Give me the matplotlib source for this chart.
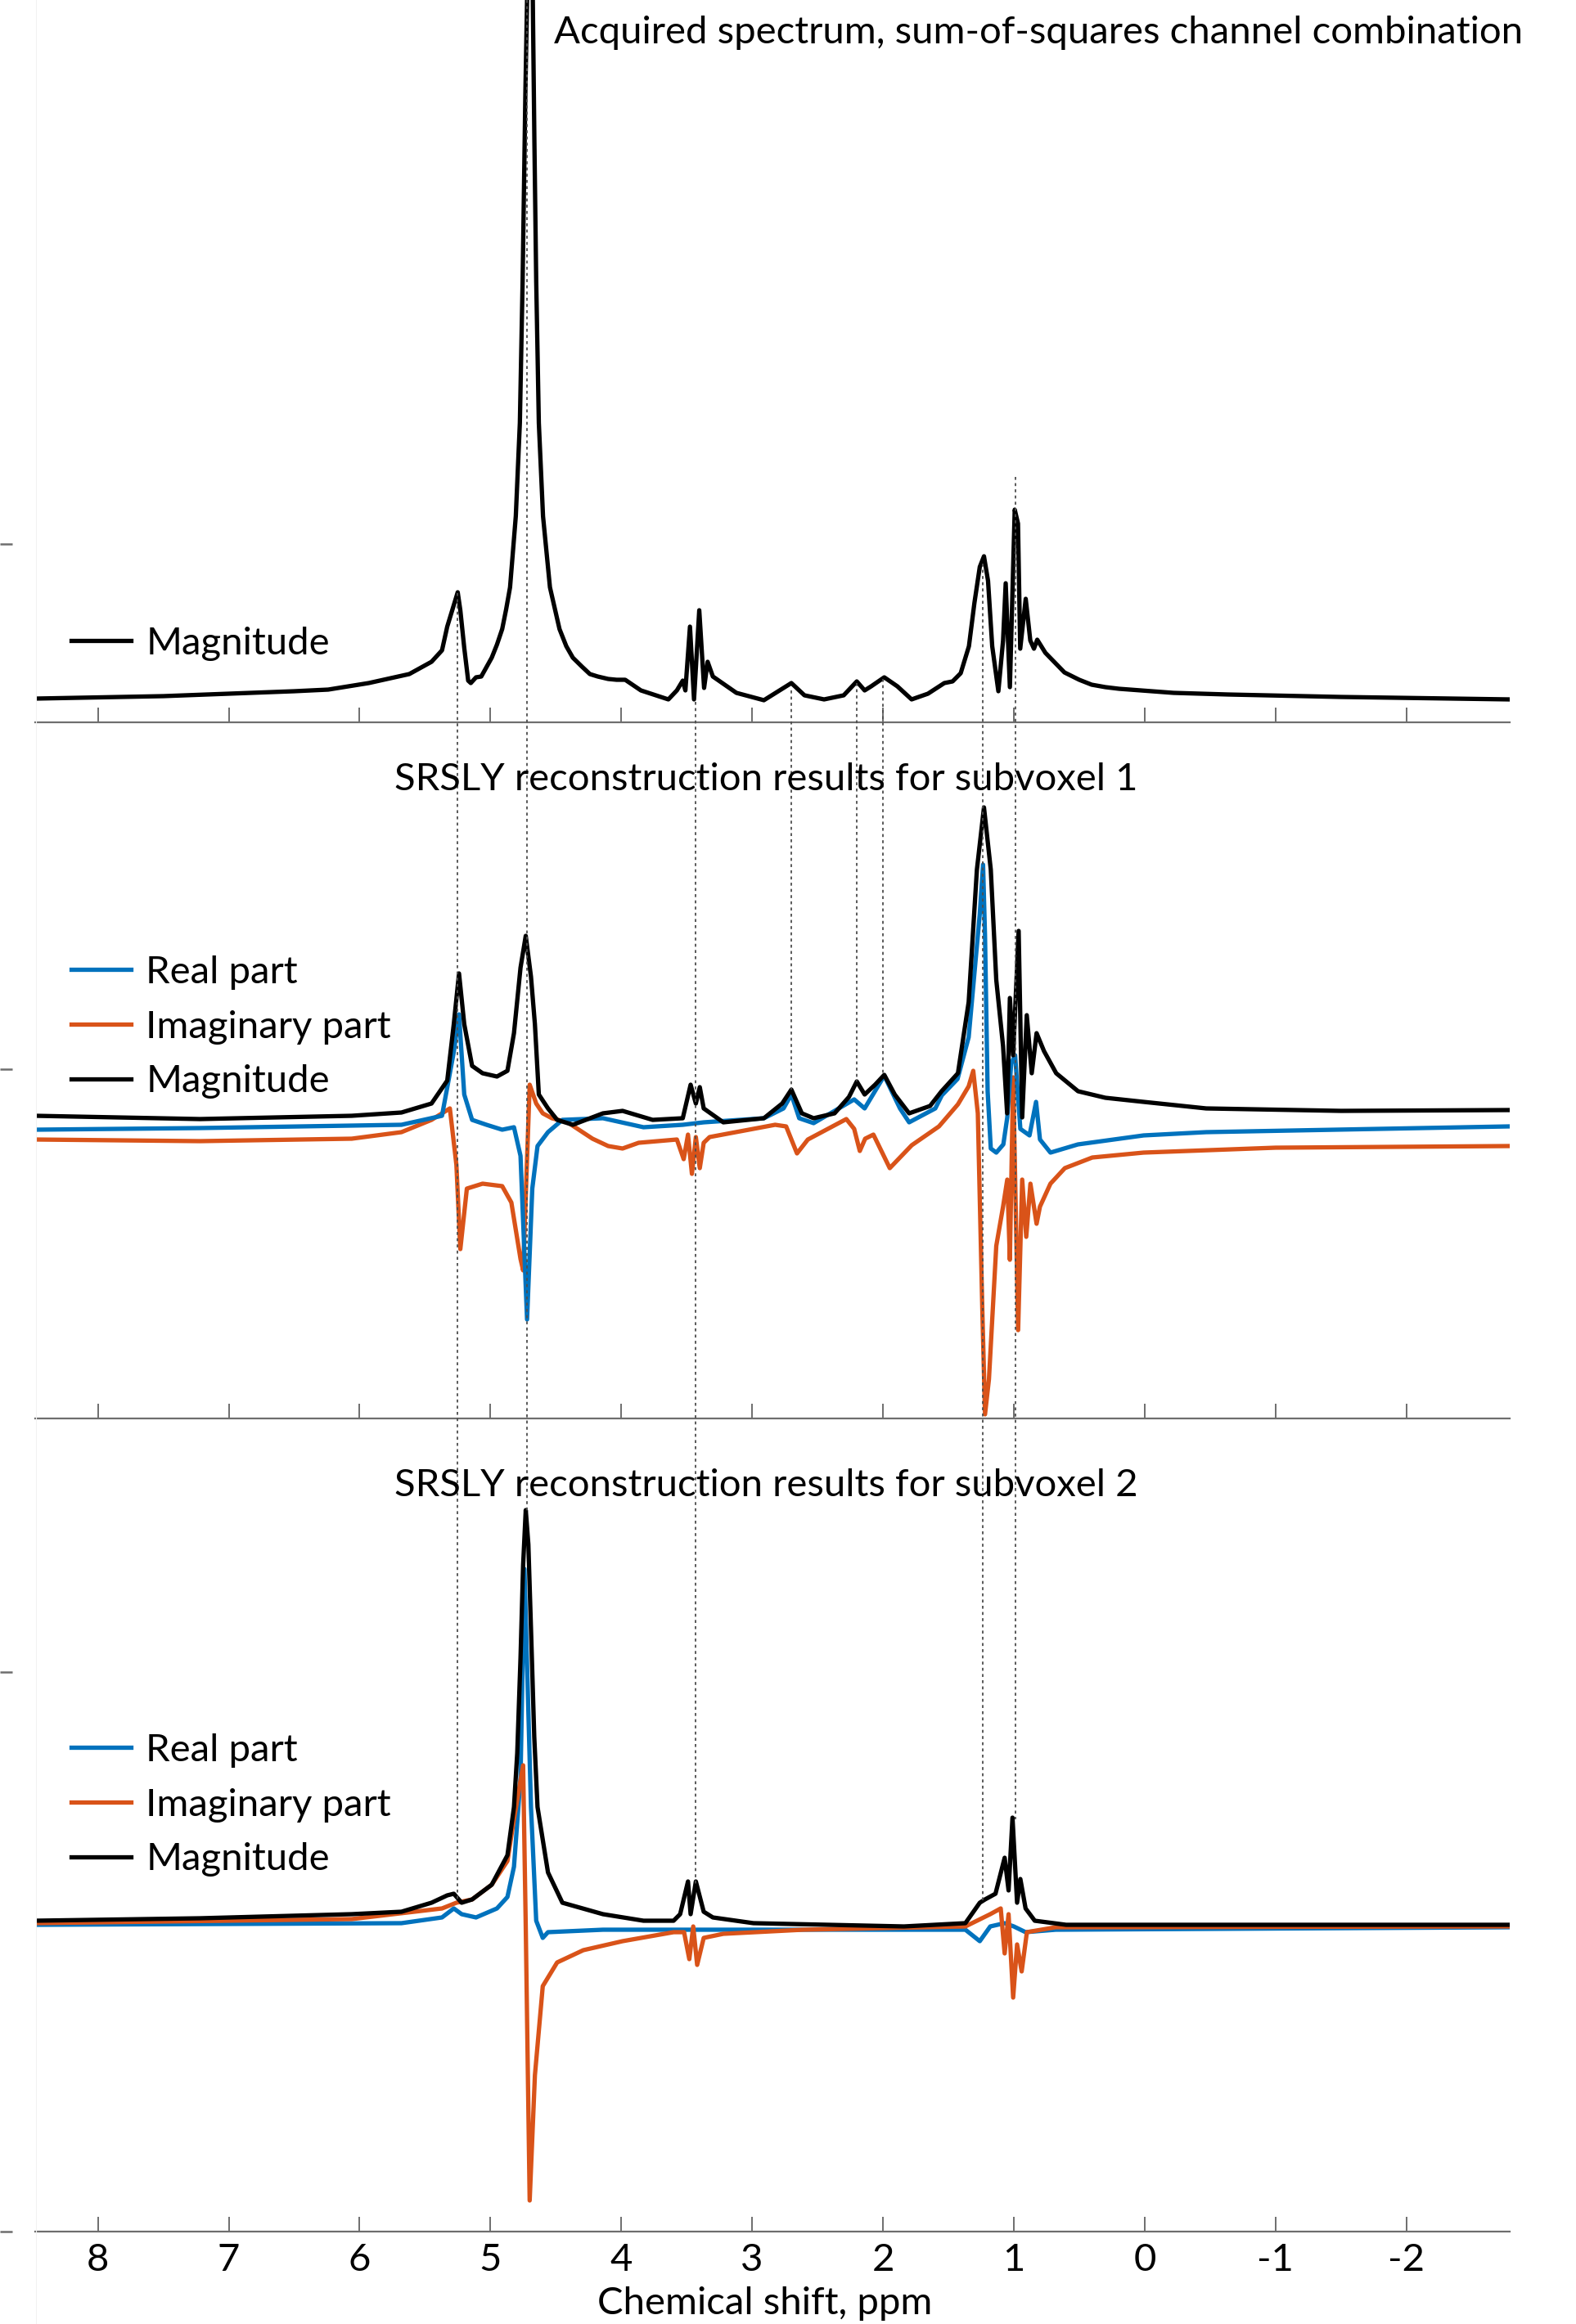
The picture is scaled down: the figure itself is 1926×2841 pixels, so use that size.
import matplotlib
matplotlib.use('Agg')
import matplotlib.pyplot as plt
from matplotlib.lines import Line2D

plt.rcParams['font.family'] = ['Lato', 'DejaVu Sans']

# ---- data (intensity in arbitrary units) ----
acq_ppm = [8.48, 7.5, 7.0, 6.5, 6.24, 5.93, 5.62, 5.45, 5.37, 5.33, 5.25, 5.23, 5.20, 5.17, 5.15,
           5.11, 5.07, 4.99, 4.95, 4.91, 4.88, 4.85, 4.806, 4.775, 4.754, 4.733, 4.72, 4.70, 4.676,
           4.664, 4.65, 4.63, 4.598, 4.545, 4.472, 4.42, 4.37, 4.30, 4.24, 4.18, 4.10, 4.036, 3.97,
           3.85, 3.64, 3.575, 3.53, 3.51, 3.475, 3.444, 3.404, 3.367, 3.34, 3.30, 3.12, 2.91, 2.70,
           2.60, 2.45, 2.30, 2.20, 2.14, 2.09, 1.99, 1.89, 1.781, 1.656, 1.531, 1.468, 1.406,
           1.343, 1.301, 1.26, 1.228, 1.197, 1.165, 1.118, 1.082, 1.062, 1.03, 0.993, 0.968,
           0.951, 0.909, 0.874, 0.846, 0.821, 0.759, 0.68, 0.613, 0.50, 0.405, 0.30, 0.196,
           -0.221, -0.638, -1.5, -2.79]
acq_mag = [0.29, 0.32, 0.35, 0.38, 0.40, 0.48, 0.59, 0.74, 0.88, 1.17, 1.59, 1.37, 0.91, 0.51, 0.48,
           0.55, 0.56, 0.79, 0.95, 1.14, 1.38, 1.65, 2.52, 3.66, 5.39, 7.68, 8.83, 12.0, 8.83,
           7.11, 5.39, 3.66, 2.52, 1.65, 1.14, 0.93, 0.79, 0.68, 0.59, 0.56, 0.53, 0.52, 0.52,
           0.39, 0.28, 0.39, 0.51, 0.39, 1.17, 0.28, 1.37, 0.42, 0.74, 0.56, 0.36, 0.27, 0.48,
           0.33, 0.28, 0.33, 0.50, 0.39, 0.44, 0.55, 0.44, 0.28, 0.35, 0.48, 0.50, 0.60,
           0.93, 1.46, 1.90, 2.03, 1.73, 0.93, 0.38, 1.00, 1.70, 0.43, 2.60, 2.43,
           0.90, 1.51, 1.00, 0.90, 1.01, 0.85, 0.72, 0.61, 0.52, 0.46, 0.43, 0.41,
           0.36, 0.34, 0.31, 0.28]

sv1_mag_ppm = [8.48, 7.22, 6.06, 5.68, 5.45, 5.33, 5.28, 5.24, 5.20, 5.14, 5.06, 4.95, 4.87, 4.82,
               4.77, 4.73, 4.69, 4.66, 4.63, 4.56, 4.49, 4.37, 4.14, 3.99, 3.76, 3.53, 3.47, 3.43,
               3.40, 3.37, 3.22, 2.91, 2.77, 2.70, 2.62, 2.53, 2.37, 2.26, 2.20, 2.14, 2.06, 1.99,
               1.91, 1.80, 1.64, 1.552, 1.427, 1.345, 1.282, 1.228, 1.176, 1.134, 1.082, 1.051,
               1.03, 1.005, 0.963, 0.936, 0.901, 0.863, 0.826, 0.769, 0.676, 0.509, 0.30, 0.008,
               -0.47, -1.5, -2.78]
sv1_mag = [3.70, 3.66, 3.70, 3.74, 3.85, 4.13, 4.82, 5.44, 4.82, 4.31, 4.22, 4.18, 4.25, 4.71,
           5.51, 5.90, 5.40, 4.82, 3.96, 3.79, 3.65, 3.59, 3.73, 3.76, 3.65, 3.67, 4.08, 3.85,
           4.05, 3.79, 3.62, 3.67, 3.85, 4.02, 3.73, 3.67, 3.73, 3.93, 4.12, 3.96, 4.08, 4.20,
           3.96, 3.73, 3.82, 4.00, 4.22, 5.09, 6.71, 7.47, 6.71, 5.36, 4.55, 3.73,
           5.14, 4.44, 5.96, 3.68, 4.93, 4.22, 4.71, 4.49, 4.22, 4.00, 3.92, 3.87,
           3.79, 3.76, 3.77]

sv1_re_ppm = [8.48, 7.22, 5.68, 5.37, 5.28, 5.24, 5.20, 5.14, 5.03, 4.91, 4.82, 4.77, 4.72, 4.68,
              4.64, 4.56, 4.45, 4.14, 3.83, 3.53, 3.37, 2.91, 2.76, 2.70, 2.64, 2.53, 2.22, 2.14,
              1.99, 1.87, 1.80, 1.60, 1.55, 1.43, 1.345, 1.26, 1.235, 1.22, 1.20, 1.176, 1.134,
              1.08, 1.05, 1.02, 0.99, 0.95, 0.88, 0.83, 0.80, 0.72, 0.51, 0.008, -0.47, -2.78]
sv1_re = [3.53, 3.55, 3.59, 3.70, 4.48, 4.94, 3.96, 3.65, 3.59, 3.53, 3.56, 3.21, 1.21, 2.81,
          3.33, 3.50, 3.65, 3.67, 3.56, 3.59, 3.62, 3.67, 3.79, 3.96, 3.67, 3.61, 3.90, 3.79,
          4.19, 3.79, 3.62, 3.79, 3.95, 4.15, 4.66, 6.17, 6.77, 5.90, 4.00, 3.30, 3.25,
          3.35, 3.68, 4.34, 4.44, 3.54, 3.46, 3.87, 3.41, 3.25, 3.35, 3.46, 3.50, 3.57]

sv1_im_ppm = [8.48, 7.22, 6.06, 5.68, 5.45, 5.31, 5.26, 5.23, 5.18, 5.06, 4.91, 4.84, 4.77, 4.75,
              4.70, 4.65, 4.60, 4.53, 4.41, 4.22, 4.10, 3.99, 3.867, 3.575, 3.523, 3.49, 3.46,
              3.43, 3.40, 3.37, 3.325, 2.824, 2.74, 2.657, 2.574, 2.28, 2.22, 2.177, 2.136, 2.073,
              1.948, 1.78, 1.572, 1.427, 1.345, 1.31, 1.275, 1.24, 1.22, 1.19, 1.134, 1.082,
              1.05, 1.03, 1.005, 0.967, 0.936, 0.905, 0.873, 0.826, 0.80, 0.72, 0.61, 0.40,
              0.008, -1.0, -2.78]
sv1_im = [3.41, 3.39, 3.42, 3.50, 3.65, 3.79, 3.10, 2.07, 2.81, 2.87, 2.84, 2.64, 1.95, 1.81,
          4.08, 3.85, 3.73, 3.67, 3.62, 3.42, 3.33, 3.30, 3.37, 3.41, 3.17, 3.47, 2.99,
          3.44, 3.06, 3.37, 3.44, 3.59, 3.57, 3.24, 3.41, 3.66, 3.54, 3.27, 3.42, 3.47,
          3.06, 3.34, 3.57, 3.84, 4.06, 4.25, 3.73, 1.29, 0.05, 0.48, 2.11, 2.59,
          2.92, 1.94, 4.17, 1.08, 2.92, 2.22, 2.87, 2.38, 2.59, 2.87, 3.06, 3.19,
          3.25, 3.31, 3.33]

sv2_mag_ppm = [8.48, 7.22, 6.06, 5.68, 5.45, 5.33, 5.28, 5.22, 5.14, 4.99, 4.87, 4.82, 4.795,
               4.77, 4.75, 4.73, 4.71, 4.69, 4.665, 4.64, 4.56, 4.45, 4.14, 3.83, 3.60, 3.55, 3.49,
               3.47, 3.43, 3.37, 3.30, 2.99, 1.84, 1.37, 1.26, 1.22, 1.14, 1.07, 1.04, 1.01, 0.975,
               0.95, 0.91, 0.84, 0.60, -2.78]
sv2_mag = [3.80, 3.83, 3.88, 3.91, 4.02, 4.11, 4.13, 4.02, 4.06, 4.24, 4.60, 5.19, 5.85,
           7.01, 8.15, 8.82, 8.40, 7.37, 6.05, 5.19, 4.39, 4.02, 3.88, 3.80, 3.80, 3.88, 4.28,
           3.88, 4.28, 3.91, 3.84, 3.77, 3.73, 3.77, 4.02, 4.06, 4.13, 4.57, 4.17, 5.06, 4.02,
           4.31, 3.95, 3.80, 3.75, 3.75]

sv2_re_ppm = [8.48, 5.68, 5.37, 5.28, 5.22, 5.11, 4.95, 4.87, 4.82, 4.77, 4.74, 4.69, 4.65, 4.60,
              4.56, 4.14, 1.37, 1.26, 1.18, 1.07, 1.00, 0.91, 0.68, -2.78]
sv2_re = [3.75, 3.77, 3.84, 3.95, 3.88, 3.84, 3.95, 4.09, 4.46, 5.55, 8.10, 5.19, 3.80, 3.59,
          3.66, 3.69, 3.69, 3.55, 3.73, 3.77, 3.73, 3.66, 3.69, 3.72]

sv2_im_ppm = [8.48, 6.06, 5.37, 5.26, 5.14, 4.99, 4.87, 4.82, 4.75, 4.73, 4.70, 4.66, 4.60, 4.49,
              4.29, 3.99, 3.60, 3.52, 3.48, 3.45, 3.42, 3.37, 3.22, 2.61, 1.37, 1.18, 1.10, 1.07,
              1.04, 1.005, 0.975, 0.94, 0.90, 0.68, -2.78]
sv2_im = [3.77, 3.82, 3.95, 4.02, 4.06, 4.24, 4.53, 5.04, 5.70, 3.73, 0.38, 1.91, 3.00, 3.29,
          3.44, 3.55, 3.66, 3.66, 3.33, 3.73, 3.26, 3.59, 3.64, 3.69, 3.73, 3.88, 3.95, 3.40,
          3.88, 2.86, 3.51, 3.18, 3.66, 3.72, 3.73]

# dotted guide lines linking the same resonance across panels
guide_ppm = [5.25, 4.72, 3.43, 2.70, 2.20, 2.00, 1.24, 0.99]
guide_top_px = [725, 0, 858, 844, 835, 830, 689, 583]
guide_bottom_px = [2325, 1850, 2304, 1332, 1322, 1314, 2326, 2224]

tick_ppm = [8, 7, 6, 5, 4, 3, 2, 1, 0, -1, -2]
tick_labels = ['8', '7', '6', '5', '4', '3', '2', '1', '0', '-1', '-2']

titles = ['Acquired spectrum, sum-of-squares channel combination',
          'SRSLY reconstruction results for subvoxel 1',
          'SRSLY reconstruction results for subvoxel 2']

# ---- styling ----
W, H = 1926, 2841
BLUE = '#0072BD'
ORANGE = '#D95319'
GREY = '#6e6e6e'
FS = 34
LW = 3.8
XLIM = (8.476, -2.79)
left_px, right_px = 43.5, 1845

fig = plt.figure(figsize=(W / 100, H / 100), dpi=100)


def add_panel(top_px, bottom_px, ylim, yticks, show_labels):
    ax = fig.add_axes([left_px / W, 1 - bottom_px / H, (right_px - left_px) / W,
                       (bottom_px - top_px) / H])
    ax.set_xlim(XLIM)
    ax.set_ylim(ylim)
    ax.patch.set_alpha(0)
    for s in ['top', 'right']:
        ax.spines[s].set_visible(False)
    ax.spines['bottom'].set_color(GREY)
    ax.spines['bottom'].set_linewidth(1.6)
    ax.spines['left'].set_position(('outward', 20.5))
    ax.spines['left'].set_visible(False)
    ax.set_xticks(tick_ppm)
    if show_labels:
        ax.set_xticklabels(tick_labels)
    else:
        ax.set_xticklabels([])
    ax.tick_params(axis='x', direction='in', length=13, width=1.4, color=GREY,
                   labelsize=FS, pad=10)
    ax.set_yticks(yticks)
    ax.set_yticklabels([])
    ax.tick_params(axis='y', direction='out', length=10.8, width=1.8, color=GREY)
    return ax


ax1 = add_panel(0, 883, (0, 8.83), [2.18], False)
ax2 = add_panel(883, 1734, (0, 8.51), [4.27], False)
ax3 = add_panel(1734, 2728, (0, 9.94), [0, 6.84], True)

ax1.plot(acq_ppm, acq_mag, color='black', lw=LW, label='Magnitude')

ax2.plot(sv1_im_ppm, sv1_im, color=ORANGE, lw=LW, label='Imaginary part')
ax2.plot(sv1_re_ppm, sv1_re, color=BLUE, lw=LW, label='Real part')
ax2.plot(sv1_mag_ppm, sv1_mag, color='black', lw=LW, label='Magnitude')

ax3.plot(sv2_re_ppm, sv2_re, color=BLUE, lw=LW, label='Real part')
ax3.plot(sv2_im_ppm, sv2_im, color=ORANGE, lw=LW, label='Imaginary part')
ax3.plot(sv2_mag_ppm, sv2_mag, color='black', lw=LW, label='Magnitude')


def add_legend(ax, names, colors, first_center_px):
    handles = [Line2D([], [], color=c, lw=LW) for c in colors]
    ax.legend(handles, names, loc='upper left', frameon=False, fontsize=FS,
              bbox_to_anchor=(87 / W, 1 - (first_center_px - 17) / H),
              bbox_transform=fig.transFigure, borderpad=0, borderaxespad=0,
              handlelength=1.55, handletextpad=0.38, labelspacing=0.52)


add_legend(ax1, ['Magnitude'], ['black'], 783)
add_legend(ax2, ['Real part', 'Imaginary part', 'Magnitude'], [BLUE, ORANGE, 'black'], 1185)
add_legend(ax3, ['Real part', 'Imaginary part', 'Magnitude'], [BLUE, ORANGE, 'black'], 2136)

# overlay for the guide lines, in figure pixel rows
axg = fig.add_axes([left_px / W, 0, (right_px - left_px) / W, 1])
axg.set_xlim(XLIM)
axg.set_ylim(H, 0)
axg.axis('off')
axg.vlines(guide_ppm, guide_top_px, guide_bottom_px, colors='#4d4d4d', lw=1.3,
           linestyles=(0, (2, 2.2)))

fig.add_artist(Line2D([left_px / W, left_px / W], [0, 1], color='#f2f2f2', lw=0.8))

fig.text(1269 / W, 1 - 40 / H, titles[0], ha='center', va='center', fontsize=FS)
fig.text(936 / W, 1 - 953 / H, titles[1], ha='center', va='center', fontsize=FS)
fig.text(936 / W, 1 - 1816 / H, titles[2], ha='center', va='center', fontsize=FS)
fig.text(935 / W, 1 - 2816 / H, 'Chemical shift, ppm', ha='center', va='center', fontsize=FS)

fig.savefig('out.png', dpi=100)
